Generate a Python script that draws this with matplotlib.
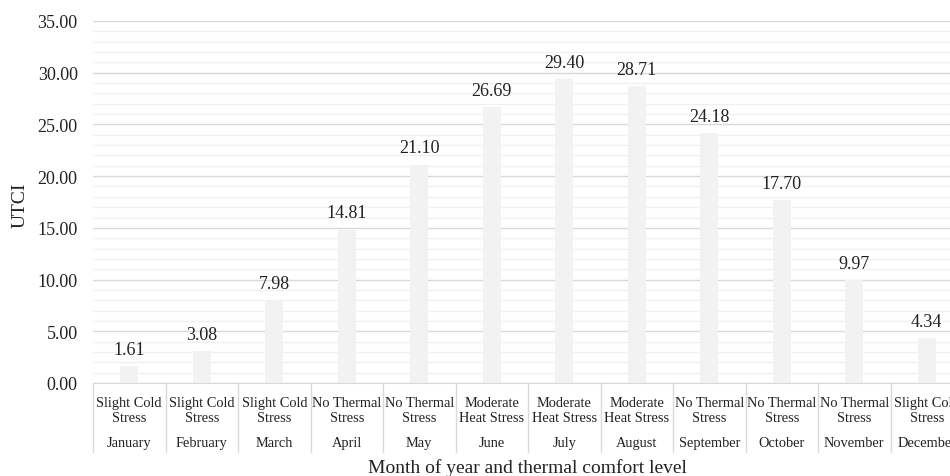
import matplotlib
matplotlib.use("Agg")
import matplotlib.pyplot as plt
from matplotlib.ticker import MultipleLocator, FormatStrFormatter
import matplotlib.transforms as mtransforms

months = ["January", "February", "March", "April", "May", "June", "July",
          "August", "September", "October", "November", "December"]
comfort = ["Slight Cold\nStress", "Slight Cold\nStress", "Slight Cold\nStress",
           "No Thermal\nStress", "No Thermal\nStress", "Moderate\nHeat Stress",
           "Moderate\nHeat Stress", "Moderate\nHeat Stress", "No Thermal\nStress",
           "No Thermal\nStress", "No Thermal\nStress", "Slight Cold\nStress"]
utci = [1.61, 3.08, 7.98, 14.81, 21.10, 26.69, 29.40, 28.71, 24.18, 17.70, 9.97, 4.34]

plt.rcParams["font.family"] = ["Liberation Serif", "DejaVu Serif"]

fig = plt.figure(figsize=(9.5, 4.77), dpi=100)
# plot area runs past the right edge, as in the original
ax = fig.add_axes([93 / 950, 93 / 477, 870 / 950, 362 / 477])

x = list(range(len(months)))
ax.bar(x, utci, width=0.25, color="#f2f2f2", zorder=2)
for xi, v in zip(x, utci):
    ax.annotate(f"{v:.2f}", (xi, v), xytext=(0, 6), textcoords="offset points",
                ha="center", va="bottom", fontsize=13, color="#222222")

ax.set_xlim(-0.5, len(months) - 0.5)
ax.set_ylim(0, 35)
ax.yaxis.set_major_locator(MultipleLocator(5))
ax.yaxis.set_minor_locator(MultipleLocator(1))
ax.yaxis.set_major_formatter(FormatStrFormatter("%.2f"))
ax.grid(axis="y", which="major", color="#d9d9d9", linewidth=1.0, zorder=0)
ax.grid(axis="y", which="minor", color="#f0f0f0", linewidth=1.0, zorder=0)
ax.set_axisbelow(True)
for s in ["top", "right", "left"]:
    ax.spines[s].set_visible(False)
ax.spines["bottom"].set_color("#d9d9d9")
ax.tick_params(axis="y", which="both", length=0, pad=11, labelsize=13,
               labelcolor="#222222")
ax.set_xticks([])

# multi-level category axis
trans = mtransforms.blended_transform_factory(ax.transData, ax.transAxes)
for xi, c, m in zip(x, comfort, months):
    ax.text(xi, -0.035, c, transform=trans, ha="center", va="top",
            fontsize=10.4, linespacing=1.25, color="#222222")
    ax.text(xi, -0.163, m, transform=trans, ha="center", va="center",
            fontsize=10.4, color="#222222")
for b in range(len(months) + 1):
    ax.plot([b - 0.5, b - 0.5], [0, -0.19], transform=trans, color="#d9d9d9",
            linewidth=1.0, clip_on=False)

fig.text(527 / 950, 1 - 468 / 477, "Month of year and thermal comfort level",
         ha="center", va="center", fontsize=14, color="#222222")
fig.text(20 / 950, 1 - 205 / 477, "UTCI", rotation=90, ha="center",
         va="center", fontsize=14, color="#222222")

fig.savefig("out.png", dpi=100)
